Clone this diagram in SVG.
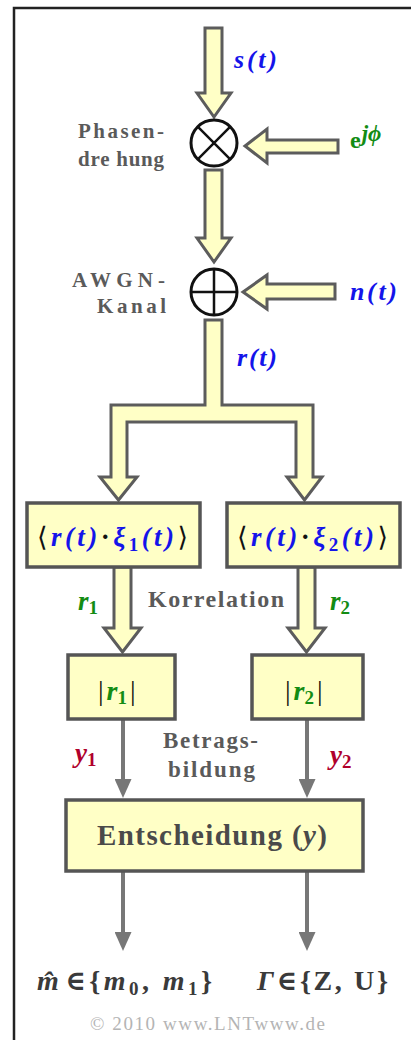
<svg xmlns="http://www.w3.org/2000/svg" width="411" height="1050" viewBox="0 0 411 1050">
<defs>
<style>
.arrow{fill:#ffffc6;stroke:#5c5c5c;stroke-width:3;stroke-linejoin:miter}
.box{fill:#ffffc6;stroke:#555;stroke-width:3.5}
.circ{fill:#fff;stroke:#111;stroke-width:3}
.op{stroke:#111;stroke-width:2.5;fill:none}
.lbl{font-family:"Liberation Serif",serif;font-weight:bold;fill:#5a5a5a}
.m{font-family:"Liberation Serif","DejaVu Serif",serif;font-weight:bold;font-style:italic}
.up{font-style:normal}
.blue{fill:#1414ea}
.green{fill:#138c13}
.red{fill:#b0002c}
.blk{fill:#111}
.line{stroke:#777;stroke-width:4;fill:none}
</style>
<marker id="ah" viewBox="0 0 19 17" refX="10" refY="8.5" markerWidth="19" markerHeight="17" markerUnits="userSpaceOnUse" orient="auto">
<path d="M0,0 L19,8.5 L0,17 Z" fill="#777"/>
</marker>
</defs>
<rect width="411" height="1050" fill="#fff"/>
<path d="M14,1040 V8 H411" fill="none" stroke="#222" stroke-width="2.5"/>

<g id="connectors">
<polygon class="arrow" points="205,28 222,28 222,93 231,93 214,117 197,93 205,93"/>
<polygon class="arrow" points="338,140 267,140 267,129 245,146 267,163 267,153 338,153"/>
<polygon class="arrow" points="205,170 222,170 222,238 231,238 214,262 197,238 205,238"/>
<polygon class="arrow" points="335,284 267,284 267,275 243,292 267,309 267,299 335,299"/>
<polygon class="arrow" points="205,320 205,405 111,405 111,477 100,477 118.5,500 137,477 127,477 127,422 296,422 296,477 287,477 304.5,500 322,477 313,477 313,405 222,405 222,320"/>
<polygon class="arrow" points="114,567 131,567 131,628 141,628 122.5,652 104,628 114,628"/>
<polygon class="arrow" points="298,567 315,567 315,628 325,628 306.5,652 288,628 298,628"/>
<line class="line" x1="123" y1="719" x2="123" y2="789" marker-end="url(#ah)"/>
<line class="line" x1="307" y1="719" x2="307" y2="789" marker-end="url(#ah)"/>
<line class="line" x1="123" y1="871" x2="123" y2="942" marker-end="url(#ah)"/>
<line class="line" x1="307" y1="871" x2="307" y2="942" marker-end="url(#ah)"/>
</g>

<g id="labels">
<text class="m blue" x="234" y="68" font-size="26" textLength="43">s(t)</text>
<text class="m green" x="350" y="148" font-size="24"><tspan class="up">e</tspan><tspan dx="1" dy="-7" font-size="23">jϕ</tspan></text>
<text class="m blue" x="350" y="300" font-size="26" textLength="47">n(t)</text>
<text class="m blue" x="237" y="366" font-size="26" textLength="40">r(t)</text>
<text class="m green" x="78" y="610" font-size="27">r<tspan class="up" font-size="19" dy="4">1</tspan></text>
<text class="m green" x="330" y="610" font-size="27">r<tspan class="up" font-size="19" dy="4">2</tspan></text>
<text class="m red" x="75" y="762" font-size="27">y<tspan class="up" font-size="19" dy="4">1</tspan></text>
<text class="m red" x="330" y="764" font-size="27">y<tspan class="up" font-size="19" dy="4">2</tspan></text>
<text class="lbl" x="78" y="138" font-size="21" textLength="86">Phasen-</text>
<text class="lbl" x="78" y="166" font-size="21" textLength="86">dre hung</text>
<text class="lbl" x="72" y="287" font-size="21" textLength="93">AWGN-</text>
<text class="lbl" x="97" y="313" font-size="21" textLength="69">Kanal</text>
<text class="lbl" x="148" y="607" font-size="24" textLength="136">Korrelation</text>
<text class="lbl" x="163" y="748" font-size="23" textLength="95">Betrags-</text>
<text class="lbl" x="168" y="777" font-size="23" textLength="87">bildung</text>
<text class="m" x="37" y="990" font-size="28" fill="#3a3a3a" textLength="175">m̂<tspan class="up" dx="3">∈{</tspan><tspan>m</tspan><tspan class="up" font-size="19" dy="5">0</tspan><tspan class="up" dy="-5">, </tspan><tspan>m</tspan><tspan class="up" font-size="19" dy="5">1</tspan><tspan class="up" dy="-5">}</tspan></text>
<text class="m" x="257" y="990" font-size="28" fill="#3a3a3a" textLength="131">Γ<tspan class="up">∈{Z, U}</tspan></text>
<text x="90" y="1030" font-family="Liberation Serif,serif" font-size="19" fill="#b4b4b4" textLength="235">© 2010 www.LNTwww.de</text>
</g>

<g id="mult">
<circle class="circ" cx="214" cy="143" r="23"/>
<path class="op" d="M197.7,126.7 L230.3,159.3 M230.3,126.7 L197.7,159.3"/>
</g>
<g id="adder">
<circle class="circ" cx="214" cy="292" r="23"/>
<path class="op" d="M191,292 H237 M214,269 V315"/>
</g>

<g id="corr1">
<rect class="box" x="27" y="503" width="173" height="64"/>
<text class="m blue" x="37" y="546" font-size="27" textLength="151"><tspan class="blk up" font-family="DejaVu Serif,serif" font-weight="normal">⟨</tspan>r(t)<tspan class="blk up">·</tspan>ξ<tspan class="up" font-size="19" dy="5">1</tspan><tspan dy="-5">(t)</tspan><tspan class="blk up" font-family="DejaVu Serif,serif" font-weight="normal">⟩</tspan></text>
</g>
<g id="corr2">
<rect class="box" x="227" y="503" width="173" height="64"/>
<text class="m blue" x="237" y="546" font-size="27" textLength="151"><tspan class="blk up" font-family="DejaVu Serif,serif" font-weight="normal">⟨</tspan>r(t)<tspan class="blk up">·</tspan>ξ<tspan class="up" font-size="19" dy="5">2</tspan><tspan dy="-5">(t)</tspan><tspan class="blk up" font-family="DejaVu Serif,serif" font-weight="normal">⟩</tspan></text>
</g>
<g id="abs1">
<rect class="box" x="68" y="655" width="107" height="64"/>
<text class="m green" x="98" y="700" font-size="28"><tspan class="blk up" font-weight="normal">|</tspan><tspan dx="3">r</tspan><tspan class="up" font-size="19" dy="4">1</tspan><tspan class="blk up" font-weight="normal" dy="-4" dx="3">|</tspan></text>
</g>
<g id="abs2">
<rect class="box" x="252" y="655" width="111" height="64"/>
<text class="m green" x="285" y="700" font-size="28"><tspan class="blk up" font-weight="normal">|</tspan><tspan dx="3">r</tspan><tspan class="up" font-size="19" dy="4">2</tspan><tspan class="blk up" font-weight="normal" dy="-4" dx="3">|</tspan></text>
</g>
<g id="decision">
<rect class="box" x="66" y="800" width="297" height="71"/>
<text class="lbl" x="97" y="845" font-size="29" textLength="230" style="fill:#4a4a4a">Entscheidung (<tspan font-style="italic">y</tspan>)</text>
</g>
</svg>
